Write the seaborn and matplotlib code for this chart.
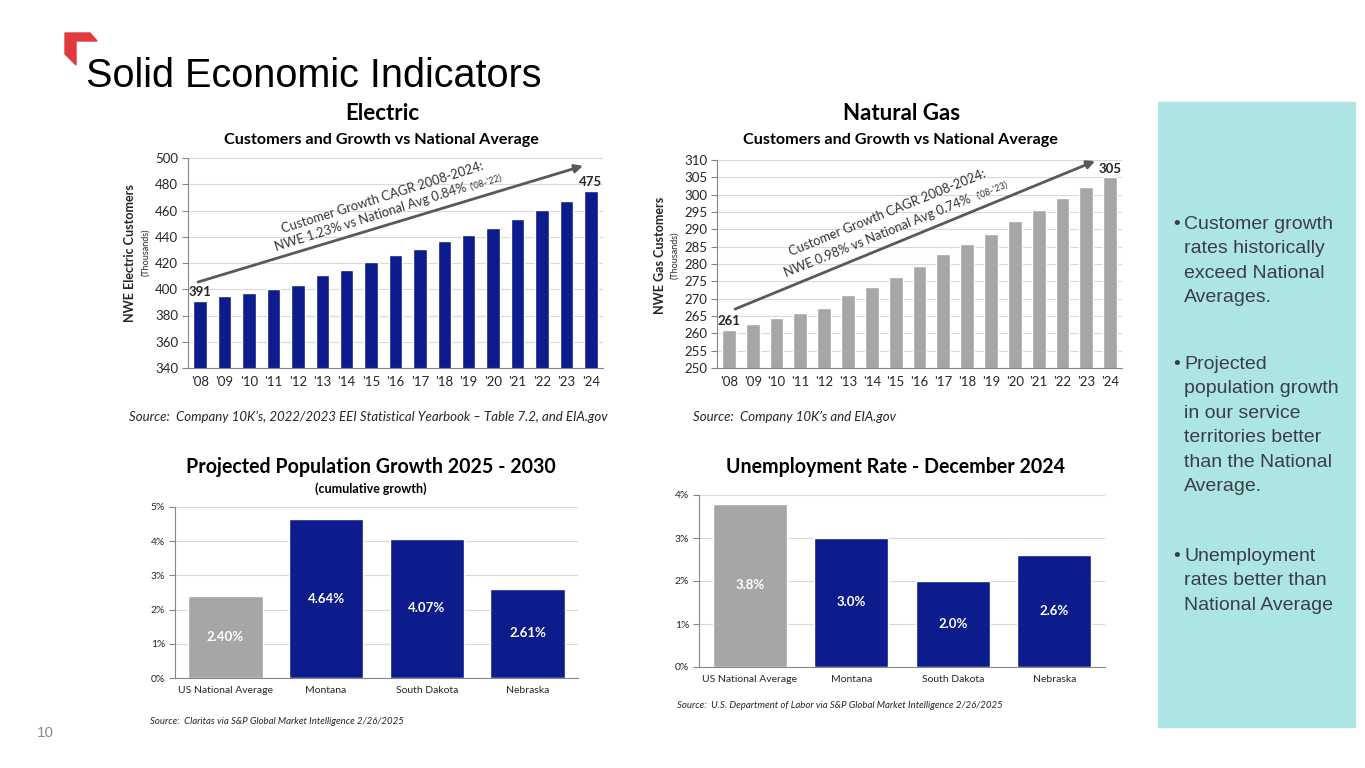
import numpy as np
import pandas as pd
import seaborn as sns
import matplotlib.pyplot as plt
from matplotlib.patches import Polygon, Rectangle
from matplotlib.ticker import FixedLocator

# data
years = ["'08", "'09", "'10", "'11", "'12", "'13", "'14", "'15", "'16",
         "'17", "'18", "'19", "'20", "'21", "'22", "'23", "'24"]
electric = [391, 395, 397.5, 400.5, 403, 411, 415, 421, 426,
            431, 436.5, 441.5, 447, 453.5, 460.5, 467.5, 475]
gas = [261, 262.8, 264.5, 265.8, 267.3, 271.1, 273.4, 276.2, 279.4,
       282.8, 285.7, 288.7, 292.3, 295.6, 298.9, 302.2, 305]
regions = ["US National Average", "Montana", "South Dakota", "Nebraska"]
pop_growth = [2.40, 4.64, 4.07, 2.61]
unemployment = [3.8, 3.0, 2.0, 2.6]

NAVY = "#0C1C8C"
GREY = "#A6A6A6"
AXC = "#868686"
TXT = "#262626"
W, H = 1365, 768


def px(x, y):
    return x / W, 1 - y / H


def rect(x0, y0, x1, y1):
    return [x0 / W, 1 - y1 / H, (x1 - x0) / W, (y1 - y0) / H]


sns.set_style("white")
plt.rcParams['font.family'] = ['Lato', 'DejaVu Sans']

fig = plt.figure(figsize=(13.65, 7.68), dpi=100)


def style_axes(ax, n, lab_size):
    ax.set_xlim(-0.5, n - 0.5)
    ax.grid(axis='y', color='#D9D9D9', lw=0.8)
    ax.set_axisbelow(True)
    for s in ['top', 'right']:
        ax.spines[s].set_visible(False)
    for s in ['left', 'bottom']:
        ax.spines[s].set_color(AXC)
        ax.spines[s].set_linewidth(0.8)
    ax.xaxis.set_minor_locator(FixedLocator(np.arange(-0.5, n, 1)))
    ax.tick_params(axis='x', which='major', length=0, pad=6,
                   labelsize=lab_size, labelcolor=TXT)
    ax.tick_params(axis='x', which='minor', length=4, color=AXC, width=0.8)
    ax.tick_params(axis='y', length=4, color=AXC, width=0.8, pad=3,
                   labelsize=lab_size, labelcolor=TXT, left=True)
    ax.set_xlabel('')
    ax.set_ylabel('')


def rot_text(x, y, s, angle, size):
    fig.text(*px(x, y), s, rotation=angle, rotation_mode='anchor',
             ha='center', va='center', fontsize=size, color='#333333')


#%% Electric
ax1 = fig.add_axes(rect(188, 158, 603, 368))
sns.barplot(x=years, y=electric, color=NAVY, width=0.55, saturation=1, ax=ax1)
style_axes(ax1, len(years), 9.5)
ax1.set_ylim(340, 500)
ax1.set_yticks(np.arange(340, 501, 20))
ax1.text(0, electric[0] + 2, "391", ha='center', va='bottom', fontsize=9.5,
         fontweight='bold', color=TXT)
ax1.text(16, electric[-1] + 2, "475", ha='center', va='bottom', fontsize=9.5,
         fontweight='bold', color=TXT)
ax1.annotate('', xy=(15.68, 494), xytext=(-0.09, 405.5), annotation_clip=False,
             arrowprops=dict(arrowstyle='-|>', color='#595959', lw=2,
                             mutation_scale=12, shrinkA=0, shrinkB=0))

fig.text(*px(382, 114), "Electric", ha='center', va='center', fontsize=16,
         fontweight='bold', color='black')
fig.text(*px(381, 140), "Customers and Growth vs National Average", ha='center',
         va='center', fontsize=11.6, fontweight='bold', color='black')
fig.text(*px(130, 253), "NWE Electric Customers", rotation=90, ha='center',
         va='center', fontsize=9, fontweight='bold', color=TXT)
fig.text(*px(146, 252), "(Thousands)", rotation=90, ha='center', va='center',
         fontsize=6.5, color=TXT)
rot_text(382, 197, "Customer Growth CAGR 2008-2024:", 17.5, 9.3)
rot_text(371, 217, "NWE 1.23% vs National Avg 0.84%", 17.5, 9.3)
rot_text(486, 182, "('08-'22)", 17.5, 6.5)
fig.text(*px(129, 417), "Source:  Company 10K\u2019s, 2022/2023 EEI Statistical Yearbook \u2013 Table 7.2, and EIA.gov",
         ha='left', va='center', fontsize=9.5, style='italic', color=TXT)

#%% Natural Gas
ax2 = fig.add_axes(rect(717, 160, 1122, 368))
sns.barplot(x=years, y=gas, color=GREY, width=0.58, saturation=1, ax=ax2)
style_axes(ax2, len(years), 9.5)
ax2.set_ylim(250, 310)
ax2.set_yticks(np.arange(250, 311, 5))
ax2.text(0, gas[0] + 0.8, "261", ha='center', va='bottom', fontsize=9.5,
         fontweight='bold', color=TXT)
ax2.text(16, gas[-1] + 0.8, "305", ha='center', va='bottom', fontsize=9.5,
         fontweight='bold', color=TXT)
ax2.annotate('', xy=(15.37, 309.7), xytext=(0.26, 267), annotation_clip=False,
             arrowprops=dict(arrowstyle='-|>', color='#595959', lw=2,
                             mutation_scale=12, shrinkA=0, shrinkB=0))

fig.text(*px(902, 114), "Natural Gas", ha='center', va='center', fontsize=16,
         fontweight='bold', color='black')
fig.text(*px(900, 140), "Customers and Growth vs National Average", ha='center',
         va='center', fontsize=11.6, fontweight='bold', color='black')
fig.text(*px(660, 255), "NWE Gas Customers", rotation=90, ha='center',
         va='center', fontsize=9, fontweight='bold', color=TXT)
fig.text(*px(675, 255), "(Thousands)", rotation=90, ha='center', va='center',
         fontsize=6.5, color=TXT)
rot_text(887, 213, "Customer Growth CAGR 2008-2024:", 22, 9.3)
rot_text(878, 236, "NWE 0.98% vs National Avg 0.74%", 22, 9.3)
rot_text(992, 190, "('08-'23)", 22, 6.5)
fig.text(*px(693, 417), "Source:  Company 10K\u2019s and EIA.gov",
         ha='left', va='center', fontsize=9.5, style='italic', color=TXT)

#%% Population growth
bar_cols = [GREY, NAVY, NAVY, NAVY]
ax3 = fig.add_axes(rect(175, 507, 578, 678))
sns.barplot(x=regions, y=pop_growth, hue=regions, palette=bar_cols, width=0.74,
            saturation=1, legend=False, ax=ax3)
style_axes(ax3, len(regions), 7.5)
ax3.set_ylim(0, 5)
ax3.set_yticks(range(0, 6))
ax3.set_yticklabels([f"{t}%" for t in range(0, 6)])
for cont, v in zip(ax3.containers, pop_growth):
    ax3.bar_label(cont, labels=[f"{v:.2f}%"], label_type='center', color='white',
                  fontsize=9.5, fontweight='bold')
fig.text(*px(371, 467), "Projected Population Growth 2025 - 2030", ha='center',
         va='center', fontsize=14.1, fontweight='bold', color='black')
fig.text(*px(371, 489), "(cumulative growth)", ha='center', va='center',
         fontsize=9, fontweight='bold', color='black')
fig.text(*px(150, 722), "Source:  Claritas via S&P Global Market Intelligence 2/26/2025",
         ha='left', va='center', fontsize=6.9, style='italic', color=TXT)

#%% Unemployment
ax4 = fig.add_axes(rect(699, 495, 1105, 667))
sns.barplot(x=regions, y=unemployment, hue=regions, palette=bar_cols, width=0.73,
            saturation=1, legend=False, ax=ax4)
style_axes(ax4, len(regions), 7.5)
ax4.set_ylim(0, 4)
ax4.set_yticks(range(0, 5))
ax4.set_yticklabels([f"{t}%" for t in range(0, 5)])
for cont, v in zip(ax4.containers, unemployment):
    ax4.bar_label(cont, labels=[f"{v:.1f}%"], label_type='center', color='white',
                  fontsize=9.5, fontweight='bold')
fig.text(*px(895, 467), "Unemployment Rate - December 2024", ha='center',
         va='center', fontsize=14.1, fontweight='bold', color='black')
fig.text(*px(677, 706), "Source:  U.S. Department of Labor via S&P Global Market Intelligence 2/26/2025",
         ha='left', va='center', fontsize=6.9, style='italic', color=TXT)

#%% slide furniture
logo = [px(65, 33), px(90, 33), px(97, 41), px(76, 41), px(76, 65), px(65, 54)]
fig.patches.append(Polygon(logo, closed=True, transform=fig.transFigure,
                           color='#E0393E', zorder=5))
fig.text(*px(86, 87), "Solid Economic Indicators", ha='left', va='baseline',
         fontsize=28.5, family='Liberation Sans', color='black')
fig.text(*px(45, 733), "10", ha='center', va='center', fontsize=11,
         family='Liberation Sans', color='#8C8C8C')

fig.patches.append(Rectangle(px(1158, 727), 197 / W, 625 / H,
                             transform=fig.transFigure, color='#ADE5E5', zorder=0))
bullets = [
    (229, ["Customer growth", "rates historically", "exceed National", "Averages."]),
    (369, ["Projected", "population growth", "in our service", "territories better",
           "than the National", "Average."]),
    (561, ["Unemployment", "rates better than", "National Average"]),
]
for y, lines in bullets:
    fig.text(*px(1173, y), "\u2022", ha='left', va='baseline', fontsize=14,
             family='Liberation Sans', color='#3A3F44')
    for i, line in enumerate(lines):
        fig.text(*px(1184, y + i * 24.4), line, ha='left', va='baseline',
                 fontsize=14, family='Liberation Sans', color='#3A3F44')

fig.savefig("out.png", dpi=100)
